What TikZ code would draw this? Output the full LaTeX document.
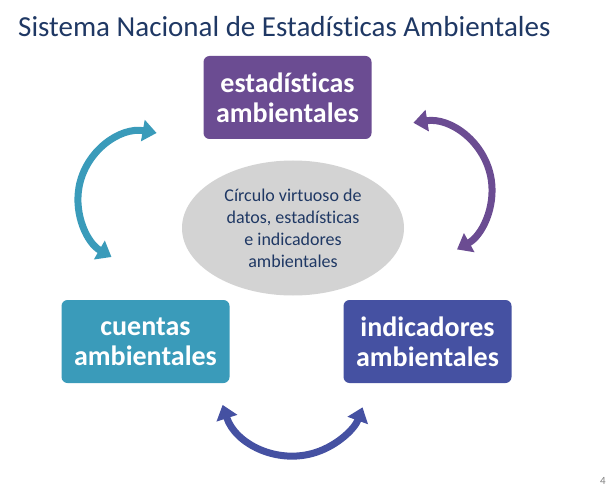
\documentclass[tikz,border=0pt]{standalone}
\usepackage{fontspec}
\setmainfont{Carlito}[Ligatures={NoCommon,NoContextual}]
\usetikzlibrary{arrows.meta,shapes.geometric}
\definecolor{titulo}{HTML}{1F3864}
\definecolor{estad}{HTML}{6B4C92}
\definecolor{cuent}{HTML}{3A9BBA}
\definecolor{indic}{HTML}{4551A2}
\definecolor{gris}{HTML}{D3D3D3}

\begin{document}
\begin{tikzpicture}[x=1pt,y=-1pt,
    caja/.style={rounded corners=6pt,minimum width=168pt,minimum height=83pt,
      inner sep=0pt,align=center,text=white,
      font=\fontsize{28}{30}\selectfont\bfseries},
    ciclo/.style={line width=7pt,
      {Triangle[width=21pt,length=14pt]}-{Triangle[width=21pt,length=14pt]}}]
      \useasboundingbox (0,0) rectangle (615,497);
      \path
      (18,37) node[anchor=base west,inner sep=0pt,text=titulo,
        font=\fontsize{29}{34}\selectfont](tit) {Sistema Nacional de Estadísticas Ambientales}
      (603,481) node[text=gray,font=\fontsize{11}{13}\selectfont](pag) {4}
      ;
      \path
      (287.5,97.5) node[caja,fill=estad](est) {estadísticas\\ambientales}
      (145.5,341.5) node[caja,fill=cuent](cue) {cuentas\\ambientales}
      (427.5,341.5) node[caja,fill=indic](ind) {indicadores\\ambientales}
      (293,228) node[ellipse,fill=gris,minimum width=222pt,minimum height=135pt,
        inner sep=0pt,align=center,text=titulo,
        font=\fontsize{18}{22}\selectfont](cir) {Círculo virtuoso de\\datos, estadísticas\\e indicadores\\ambientales}
      ;

      \path
      (156.6,133) coordinate(c1)
      (413.4,122.8) coordinate(c2)
      (222.6,404.9) coordinate(c3)
      ;

      \draw[ciclo,cuent] (c1) arc[start angle=-80,end angle=-240,radius=67];
      \draw[ciclo,estad] (c2) arc[start angle=-99,end angle=61,radius=68];
      \draw[ciclo,indic] (c3) arc[start angle=162,end angle=20,radius=74];
    \end{tikzpicture}
\end{document}
